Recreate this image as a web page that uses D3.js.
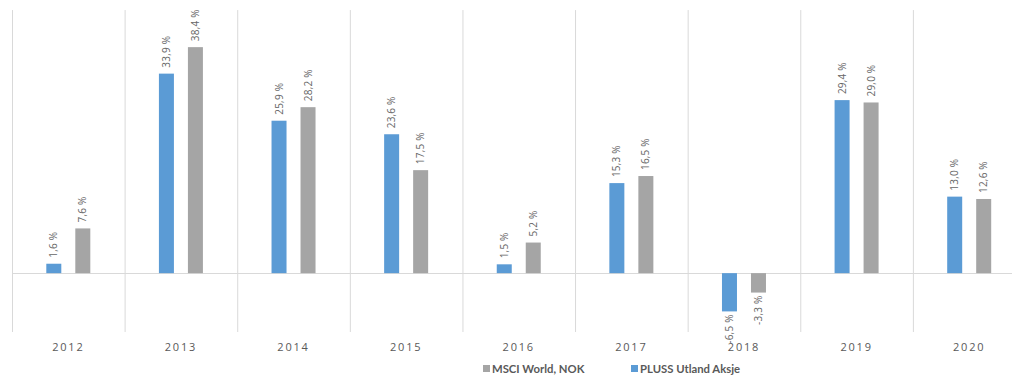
<!DOCTYPE html>
<html>
<head>
<meta charset="utf-8">
<script src="https://cdn.jsdelivr.net/npm/d3@7"></script>
<style>
  html, body { margin: 0; padding: 0; background: #fff; }
  svg { display: block; font-family: "Open Sans", "Liberation Sans", sans-serif; }
</style>
</head>
<body>
<svg id="chart" width="1012" height="376"></svg>
<script>
// Annual returns, per cent
const years = ["2012", "2013", "2014", "2015", "2016", "2017", "2018", "2019", "2020"];
const plussValues = [1.6, 33.9, 25.9, 23.6, 1.5, 15.3, -6.5, 29.4, 13.0];
const msciValues = [7.6, 38.4, 28.2, 17.5, 5.2, 16.5, -3.3, 29.0, 12.6];
const seriesNames = ["PLUSS Utland Aksje", "MSCI World, NOK"];
const seriesColors = ["#5b9bd5", "#a5a5a5"];

const series = [
  { name: seriesNames[0], color: seriesColors[0], values: plussValues },
  { name: seriesNames[1], color: seriesColors[1], values: msciValues }
];

const svg = d3.select("#chart");
const plotTop = 8.3, plotBottom = 332;

const x = d3.scaleBand().domain(years).range([12, 1025.5]).paddingInner(0).paddingOuter(0);
const y = d3.scaleLinear().domain([-10, 45]).range([plotBottom, plotTop]);
const barW = 15;
const offsets = [-14.5, 14.5];

// vertical category separators
svg.append("g").selectAll("line")
  .data(years)
  .join("line")
  .attr("x1", d => x(d) + 0.5).attr("x2", d => x(d) + 0.5)
  .attr("y1", y(44.7)).attr("y2", plotBottom)
  .attr("stroke", "#d9d9d9").attr("stroke-width", 1);

// zero line
svg.append("line")
  .attr("x1", 12).attr("x2", 1012)
  .attr("y1", Math.round(y(0)) + 0.5).attr("y2", Math.round(y(0)) + 0.5)
  .attr("stroke", "#d9d9d9").attr("stroke-width", 1);

// Norwegian style: decimal comma, plain hyphen for negatives
const fmt = v => d3.format(".1f")(v).replace(".", ",").replace("\u2212", "-") + " %";

series.forEach((s, si) => {
  const g = svg.append("g");
  const cx = d => x(d.year) + x.bandwidth() / 2 + offsets[si];
  const data = years.map((yr, i) => ({ year: yr, value: s.values[i] }));

  g.selectAll("rect")
    .data(data)
    .join("rect")
    .attr("x", d => cx(d) - barW / 2)
    .attr("width", barW)
    .attr("y", d => y(Math.max(0, d.value)))
    .attr("height", d => Math.abs(y(d.value) - y(0)))
    .attr("fill", s.color);

  g.selectAll("text")
    .data(data)
    .join("text")
    .attr("transform", d => {
      const ty = d.value >= 0 ? y(d.value) - 6 : y(d.value) + 3;
      return `translate(${cx(d) + 3.5},${ty}) rotate(-90)`;
    })
    .attr("text-anchor", d => d.value >= 0 ? "start" : "end")
    .attr("font-size", 10)
    .attr("letter-spacing", "0.2px")
    .attr("fill", "#666666")
    .text(d => fmt(d.value));
});

// category labels
const xAxis = d3.axisBottom(x).tickSize(0).tickPadding(0);
const ax = svg.append("g").attr("transform", `translate(0,${plotBottom})`).call(xAxis);
ax.select(".domain").remove();
ax.selectAll("text")
  .attr("y", 11)
  .attr("font-size", 11)
  .attr("font-family", "'Open Sans', 'Liberation Sans', sans-serif")
  .attr("letter-spacing", "1.8px")
  .attr("fill", "#595959");

// legend
const legendItems = [
  { name: seriesNames[1], color: seriesColors[1], x: 483 },
  { name: seriesNames[0], color: seriesColors[0], x: 631 }
];
const lg = svg.append("g");
legendItems.forEach(it => {
  lg.append("rect").attr("x", it.x).attr("y", 365).attr("width", 7).attr("height", 7).attr("fill", it.color);
  lg.append("text").attr("x", it.x + 9).attr("y", 372.5)
    .attr("font-size", 11.3).attr("font-weight", "bold")
    .attr("font-family", "Lato, 'Open Sans', sans-serif")
    .attr("fill", "#595959")
    .text(it.name);
});
</script>
</body>
</html>
